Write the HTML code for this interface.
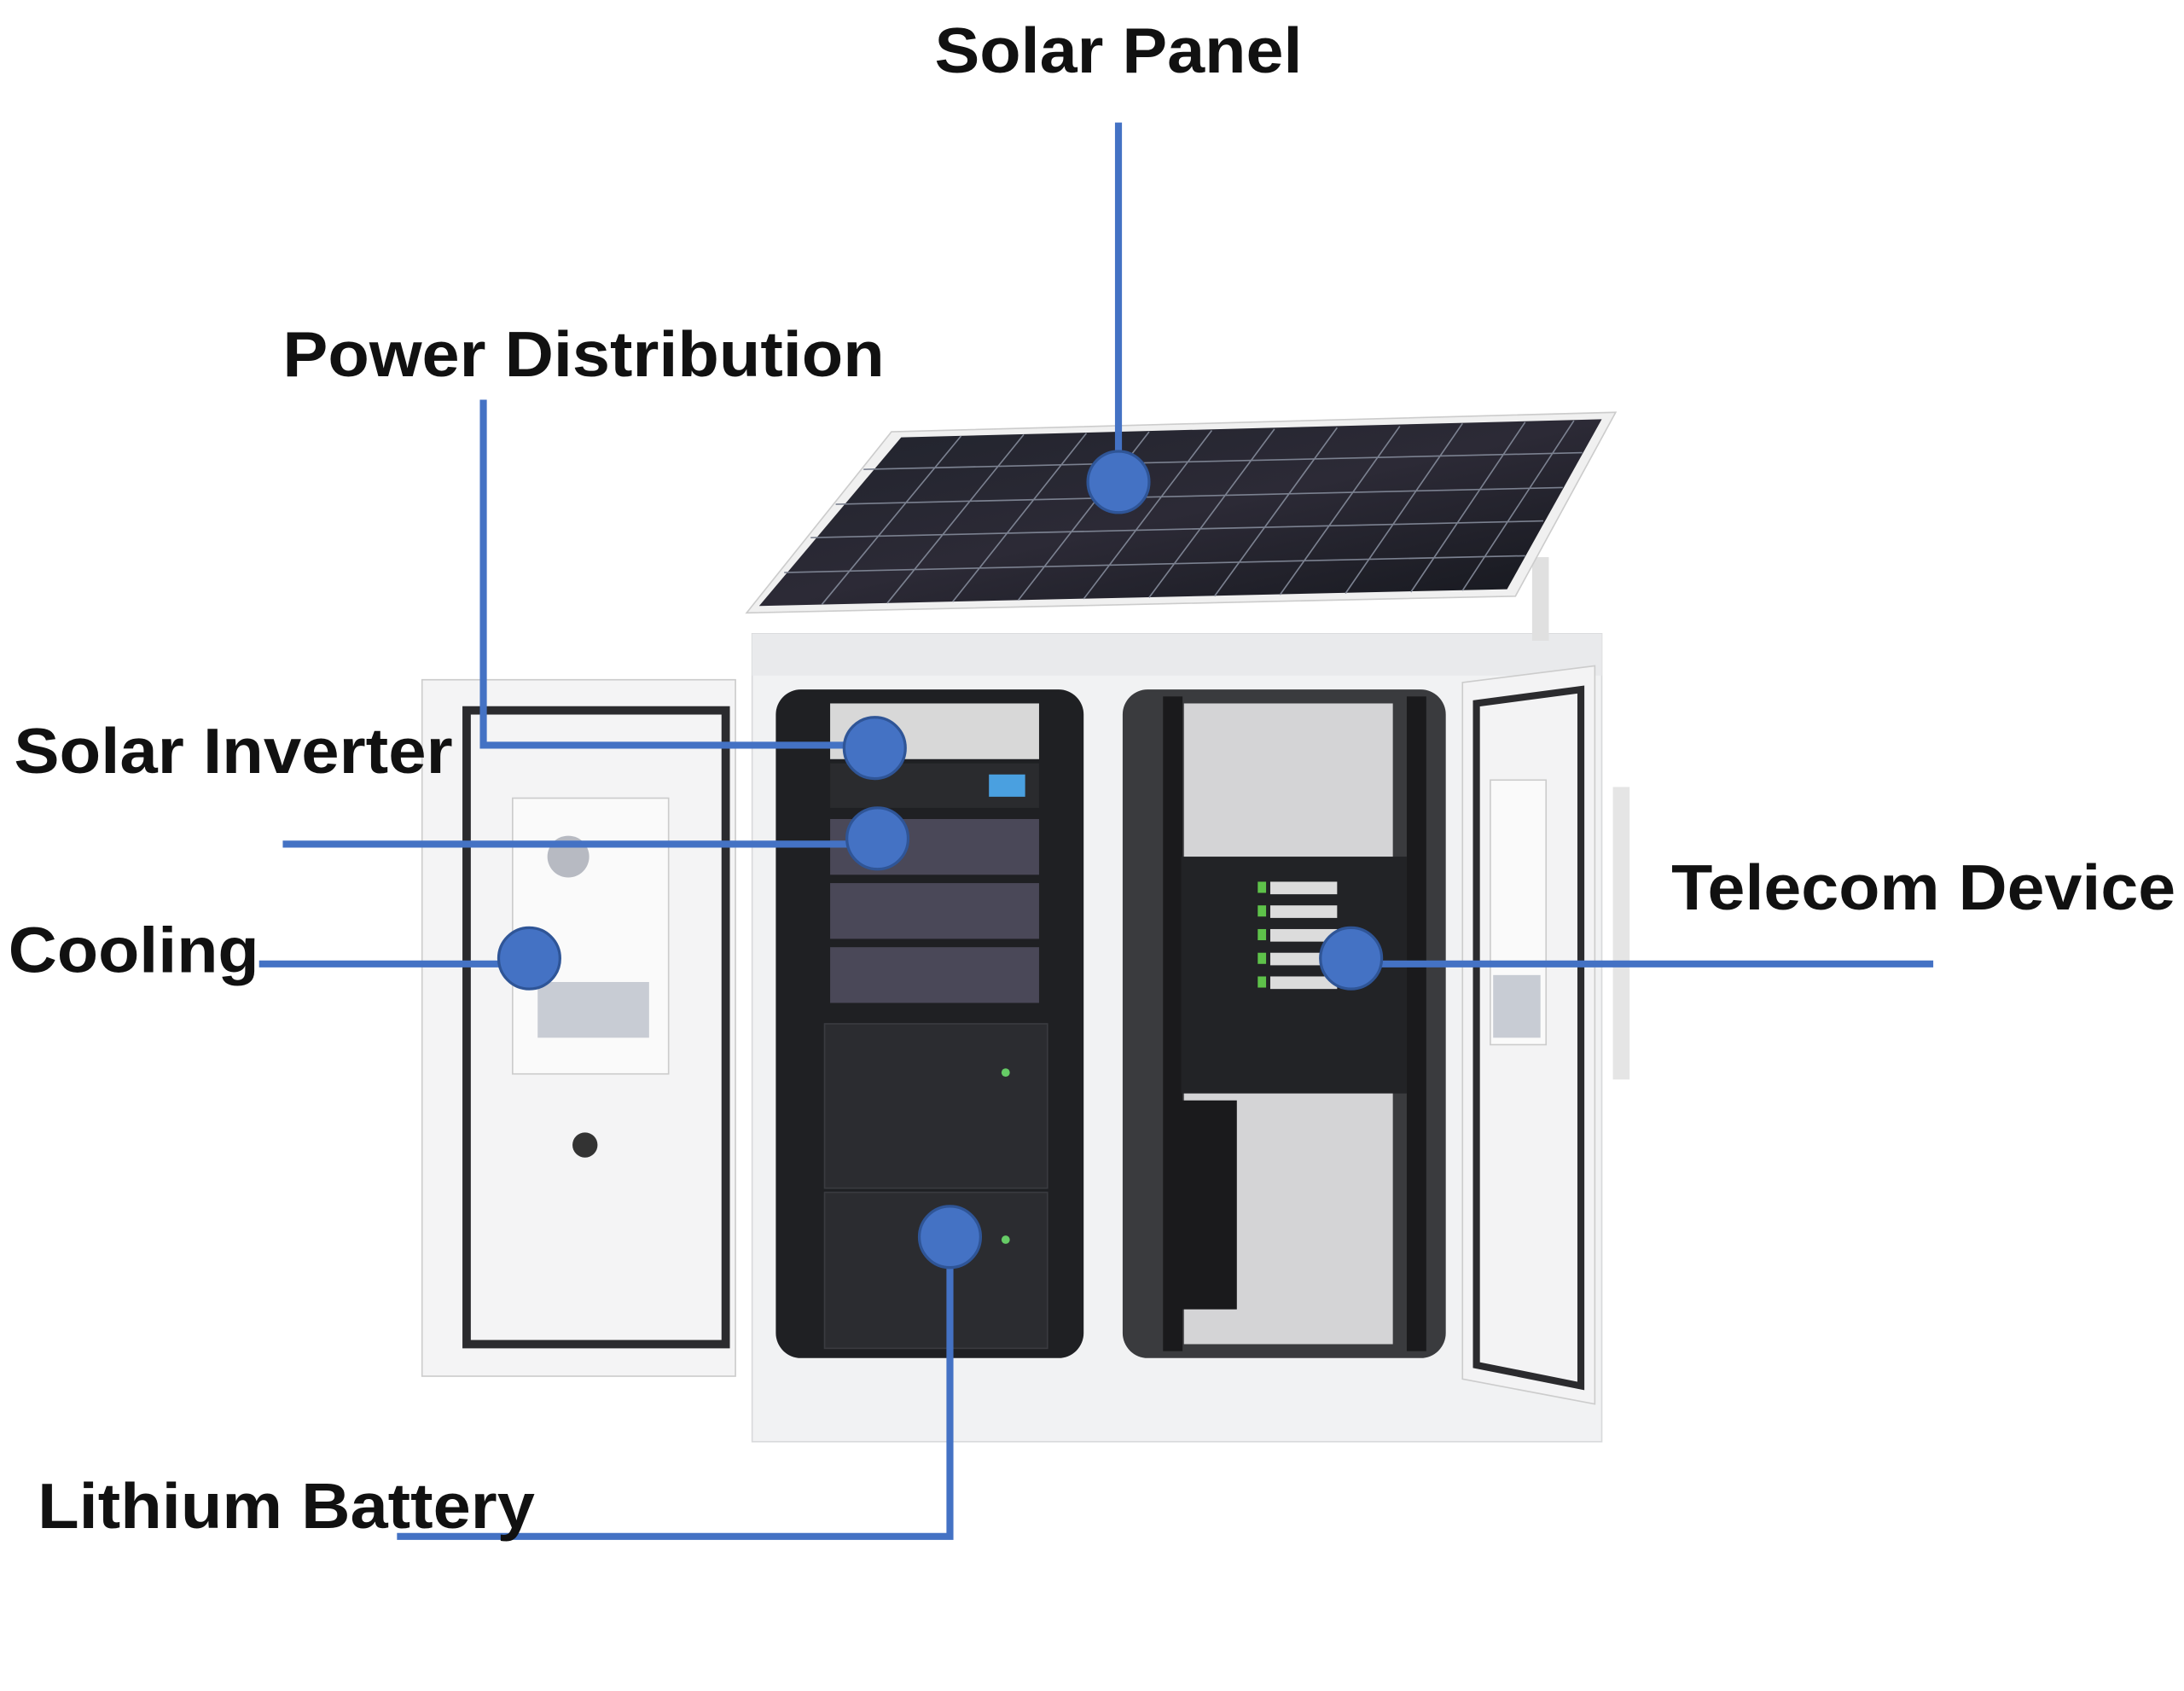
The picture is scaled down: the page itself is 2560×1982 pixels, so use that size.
<!DOCTYPE html>
<html><head><meta charset="utf-8"><style>
html,body{margin:0;padding:0;background:#fff;}
svg{display:block;}
text{font-family:"Liberation Sans",Arial,sans-serif;font-weight:bold;fill:#111;}
</style></head><body>
<svg width="2560" height="1982" viewBox="0 0 1568 1214" xmlns="http://www.w3.org/2000/svg">
<defs>
<linearGradient id="pg" x1="0" y1="0" x2="1" y2="1"><stop offset="0" stop-color="#20232c"/><stop offset="0.5" stop-color="#2c2a36"/><stop offset="1" stop-color="#15171d"/></linearGradient>
</defs>
<rect x="540" y="455" width="610" height="580" fill="#f1f2f3" stroke="#d8d9db"/>
<rect x="540" y="455" width="610" height="30" fill="#e9eaec"/>
<rect x="1100" y="400" width="12" height="60" fill="#e0e0e0"/>
<polygon points="640,310 1160,296 1088,428 536,440" fill="#f0f0f0" stroke="#ccc"/>
<polygon points="647,314 1150,301 1082,423 545,435" fill="url(#pg)"/>
<g stroke="#7b8190" stroke-width="1">
<line x1="620" y1="337" x2="1136" y2="325"/><line x1="600" y1="362" x2="1122" y2="350"/><line x1="582" y1="386" x2="1108" y2="374"/><line x1="563" y1="411" x2="1095" y2="399"/>
<line x1="690" y1="313" x2="590" y2="434"/><line x1="735" y1="312" x2="637" y2="433"/><line x1="780" y1="311" x2="684" y2="432"/><line x1="825" y1="310" x2="731" y2="431"/><line x1="870" y1="309" x2="778" y2="430"/><line x1="915" y1="308" x2="825" y2="429"/><line x1="960" y1="307" x2="872" y2="428"/><line x1="1005" y1="306" x2="919" y2="427"/><line x1="1050" y1="304" x2="966" y2="426"/><line x1="1095" y1="303" x2="1013" y2="425"/><line x1="1130" y1="302" x2="1050" y2="424"/>
</g>
<rect x="303" y="488" width="225" height="500" fill="#f4f4f5" stroke="#ccc"/>
<rect x="335" y="510" width="186" height="455" fill="none" stroke="#2b2b2e" stroke-width="6"/>
<rect x="368" y="573" width="112" height="198" fill="#fafafa" stroke="#ccc"/>
<circle cx="408" cy="615" r="15" fill="#b7bac2"/>
<rect x="386" y="705" width="80" height="40" fill="#c8ccd4"/>
<circle cx="420" cy="822" r="9" fill="#333"/>
<rect x="557" y="495" width="221" height="480" rx="18" fill="#1f2023"/>
<rect x="596" y="505" width="150" height="40" fill="#d8d8d8"/>
<rect x="596" y="548" width="150" height="32" fill="#2a2b2e"/><rect x="710" y="556" width="26" height="16" fill="#4aa0e0"/>
<rect x="596" y="588" width="150" height="40" fill="#4a4858"/>
<rect x="596" y="634" width="150" height="40" fill="#4a4858"/>
<rect x="596" y="680" width="150" height="40" fill="#4a4858"/>
<rect x="592" y="735" width="160" height="118" fill="#2b2c30" stroke="#3a3b40"/>
<rect x="592" y="856" width="160" height="112" fill="#2b2c30" stroke="#3a3b40"/>
<circle cx="722" cy="770" r="3" fill="#6c6"/><circle cx="722" cy="890" r="3" fill="#6c6"/>
<rect x="806" y="495" width="232" height="480" rx="18" fill="#3a3b3e"/>
<rect x="850" y="505" width="150" height="460" fill="#d4d4d6"/>
<rect x="835" y="500" width="14" height="470" fill="#1a1a1c"/><rect x="1010" y="500" width="14" height="470" fill="#1a1a1c"/>
<rect x="848" y="615" width="162" height="170" fill="#222326"/>
<g fill="#5ec24a"><rect x="903" y="633" width="6" height="8"/><rect x="903" y="650" width="6" height="8"/><rect x="903" y="667" width="6" height="8"/><rect x="903" y="684" width="6" height="8"/><rect x="903" y="701" width="6" height="8"/></g>
<g fill="#dcdcdc"><rect x="912" y="633" width="48" height="9"/><rect x="912" y="650" width="48" height="9"/><rect x="912" y="667" width="48" height="9"/><rect x="912" y="684" width="48" height="9"/><rect x="912" y="701" width="48" height="9"/></g>
<rect x="848" y="790" width="40" height="150" fill="#1a1a1c"/>
<polygon points="1050,490 1145,478 1145,1008 1050,990" fill="#f3f3f4" stroke="#ccc"/>
<polygon points="1060,505 1135,495 1135,995 1060,980" fill="none" stroke="#2b2b2e" stroke-width="5"/>
<rect x="1070" y="560" width="40" height="190" fill="#fafafa" stroke="#ccc"/>
<rect x="1072" y="700" width="34" height="45" fill="#c8ccd4"/>
<rect x="1158" y="565" width="12" height="210" fill="#e5e5e5"/>
<g stroke="#4472c4" stroke-width="5" fill="none">
<polyline points="803,88 803,346"/>
<polyline points="347,287 347,535 628,535"/>
<polyline points="203,606 630,606"/>
<polyline points="186,692 380,692"/>
<polyline points="970,692 1388,692"/>
<polyline points="285,1103 682,1103 682,888"/>
</g>
<g fill="#4472c4" stroke="#2f5597" stroke-width="2">
<circle cx="803" cy="346" r="22"/>
<circle cx="628" cy="537" r="22"/>
<circle cx="630" cy="602" r="22"/>
<circle cx="380" cy="688" r="22"/>
<circle cx="970" cy="688" r="22"/>
<circle cx="682" cy="888" r="22"/>
</g>
<text x="671" y="52" font-size="46" textLength="264" lengthAdjust="spacingAndGlyphs">Solar Panel</text>
<text x="203" y="270" font-size="46" textLength="432" lengthAdjust="spacingAndGlyphs">Power Distribution</text>
<text x="10" y="555" font-size="46" textLength="315" lengthAdjust="spacingAndGlyphs">Solar Inverter</text>
<text x="6" y="698" font-size="46" textLength="180" lengthAdjust="spacingAndGlyphs">Cooling</text>
<text x="1200" y="653" font-size="46" textLength="362" lengthAdjust="spacingAndGlyphs">Telecom Device</text>
<text x="27" y="1097" font-size="46" textLength="357" lengthAdjust="spacingAndGlyphs">Lithium Battery</text>
</svg>
</body></html>
